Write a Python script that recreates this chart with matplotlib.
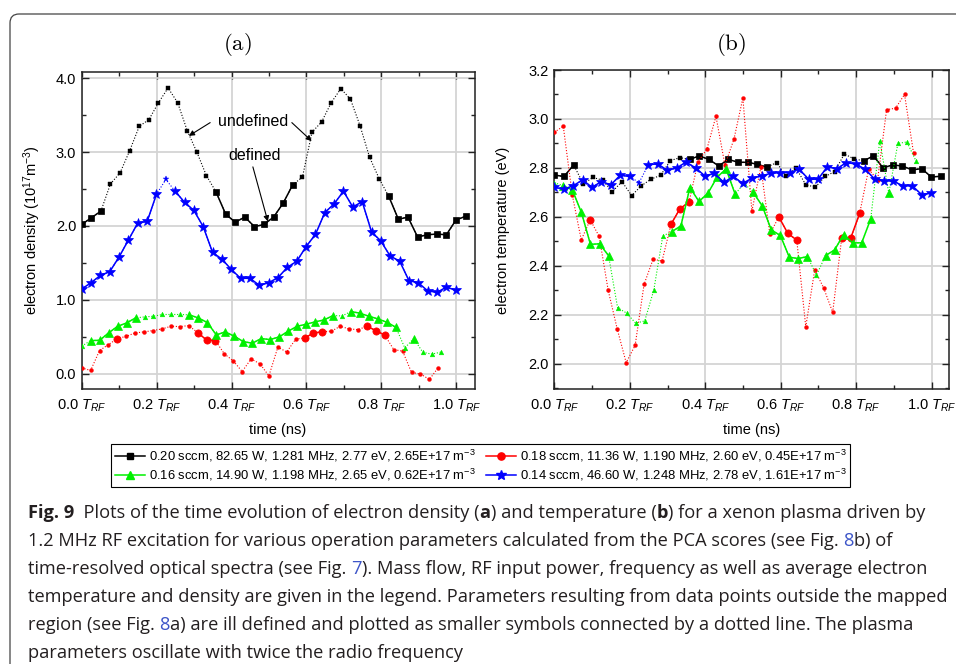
import matplotlib
matplotlib.use('Agg')
import matplotlib.pyplot as plt
import numpy as np
from matplotlib.lines import Line2D
from matplotlib.patches import FancyBboxPatch
from matplotlib.transforms import IdentityTransform
from matplotlib import font_manager as fm
from matplotlib.ticker import MultipleLocator

# ---------------- data ----------------
t_ns = np.arange(0, 820, 20)          # sampling times (ns), 41 samples
freq_black, freq_red, freq_green, freq_blue = 1.281, 1.190, 1.198, 1.248   # MHz

# electron density (1e17 m^-3), panel (a)
ne_black = [2.02, 2.11, 2.20, 2.57, 2.72, 3.02, 3.35, 3.44, 3.67, 3.87, 3.67, 3.29, 3.00, 2.68,
            2.46, 2.16, 2.05, 2.12, 1.99, 2.02, 2.12, 2.31, 2.56, 2.66, 3.27, 3.41, 3.67, 3.86,
            3.72, 3.36, 2.93, 2.64, 2.40, 2.09, 2.12, 1.85, 1.88, 1.89, 1.88, 2.08, 2.13]
ne_red = [0.077, 0.041, 0.311, 0.392, 0.473, 0.505, 0.55, 0.564, 0.582, 0.604, 0.64, 0.636, 0.649,
          0.555, 0.455, 0.446, 0.266, 0.171, 0.027, 0.198, 0.131, -0.032, 0.356, 0.293, 0.465,
          0.483, 0.546, 0.568, 0.573, 0.64, 0.604, 0.595, 0.64, 0.582, 0.519, 0.325, 0.302,
          0.014, -0.005, -0.081, 0.081]
ne_green = [0.37, 0.446, 0.45, 0.55, 0.64, 0.685, 0.753, 0.767, 0.776, 0.80, 0.80, 0.80, 0.794,
            0.753, 0.69, 0.523, 0.564, 0.505, 0.433, 0.41, 0.473, 0.46, 0.496, 0.573, 0.64,
            0.667, 0.70, 0.726, 0.785, 0.78, 0.84, 0.817, 0.776, 0.74, 0.695, 0.627, 0.347,
            0.474, 0.289, 0.262, 0.289]
ne_blue = [1.145, 1.23, 1.33, 1.38, 1.58, 1.81, 2.04, 2.06, 2.43, 2.63, 2.47, 2.32, 2.21, 1.99,
           1.64, 1.55, 1.41, 1.29, 1.29, 1.195, 1.23, 1.30, 1.44, 1.52, 1.72, 1.885, 2.18, 2.30,
           2.47, 2.255, 2.33, 1.92, 1.795, 1.59, 1.525, 1.26, 1.23, 1.12, 1.10, 1.17, 1.13]

# electron temperature (eV), panel (b)
te_black = [2.771, 2.765, 2.812, 2.735, 2.761, 2.75, 2.703, 2.744, 2.687, 2.727, 2.754, 2.770,
            2.830, 2.842, 2.835, 2.849, 2.835, 2.808, 2.835, 2.823, 2.823, 2.815, 2.803, 2.822,
            2.765, 2.80, 2.732, 2.721, 2.765, 2.785, 2.857, 2.837, 2.829, 2.849, 2.801, 2.812,
            2.808, 2.792, 2.797, 2.763, 2.766]
te_red = [2.946, 2.970, 2.69, 2.506, 2.588, 2.52, 2.30, 2.143, 2.005, 2.075, 2.325, 2.427, 2.42,
          2.57, 2.634, 2.66, 2.824, 2.878, 3.011, 2.812, 2.917, 3.086, 2.624, 2.803, 2.53, 2.60,
          2.533, 2.505, 2.151, 2.384, 2.309, 2.21, 2.513, 2.513, 2.614, 2.795, 2.751, 3.038,
          3.044, 3.10, 2.861]
te_green = [2.74, 2.727, 2.71, 2.618, 2.488, 2.49, 2.442, 2.229, 2.207, 2.166, 2.175, 2.30, 2.522,
            2.54, 2.563, 2.72, 2.663, 2.697, 2.762, 2.796, 2.693, 2.737, 2.70, 2.645, 2.547,
            2.524, 2.435, 2.43, 2.438, 2.362, 2.442, 2.465, 2.528, 2.494, 2.494, 2.592, 2.912,
            2.697, 2.90, 2.906, 2.829]
te_blue = [2.721, 2.713, 2.727, 2.751, 2.721, 2.744, 2.731, 2.770, 2.765, 2.74, 2.814, 2.816,
           2.79, 2.80, 2.824, 2.80, 2.767, 2.778, 2.741, 2.765, 2.737, 2.758, 2.767, 2.778, 2.781,
           2.781, 2.795, 2.754, 2.754, 2.805, 2.796, 2.822, 2.816, 2.795, 2.755, 2.748, 2.746,
           2.727, 2.727, 2.691, 2.697]

# L = well defined point (large symbol, solid line), s = ill defined (small symbol, dotted)
flags_black = "LLL" + "s" * 11 + "L" * 9 + "s" * 9 + "L" * 9
flags_red = "ssss" + "L" + "s" * 8 + "LLL" + "s" * 9 + "LLL" + "ssss" + "LLL" + "s" * 6
flags_green_a = "s" + "L" * 6 + "s" * 5 + "L" * 17 + "s" + "L" * 6 + "s" + "L" + "sss"
flags_green_b = "s" + "L" * 6 + "s" * 6 + "L" * 8 + "s" + "L" * 7 + "s" + "L" * 6 + "s" + "L" + "sss"
flags_blue = "L" * 9 + "s" + "L" * 31

legend_labels = [
    "0.20 sccm, 82.65 W, 1.281 MHz, 2.77 eV, 2.65E+17 m$^{-3}$",
    "0.16 sccm, 14.90 W, 1.198 MHz, 2.65 eV, 0.62E+17 m$^{-3}$",
    "0.18 sccm, 11.36 W, 1.190 MHz, 2.60 eV, 0.45E+17 m$^{-3}$",
    "0.14 sccm, 46.60 W, 1.248 MHz, 2.78 eV, 1.61E+17 m$^{-3}$",
]
xtick_vals = [0.0, 0.2, 0.4, 0.6, 0.8, 1.0]

caption_lines = [
    [("Fig. 9", "bold", None), ("  Plots of the time evolution of electron density (", "normal", None),
     ("a", "bold", None), (") and temperature (", "normal", None), ("b", "bold", None),
     (") for a xenon plasma driven by", "normal", None)],
    [("1.2 MHz RF excitation for various operation parameters calculated from the PCA scores (see Fig. ", "normal", None),
     ("8", "normal", "link"), ("b) of", "normal", None)],
    [("time-resolved optical spectra (see Fig. ", "normal", None), ("7", "normal", "link"),
     ("). Mass flow, RF input power, frequency as well as average electron", "normal", None)],
    [("temperature and density are given in the legend. Parameters resulting from data points outside the mapped", "normal", None)],
    [("region (see Fig. ", "normal", None), ("8", "normal", "link"),
     ("a) are ill defined and plotted as smaller symbols connected by a dotted line. The plasma", "normal", None)],
    [("parameters oscillate with twice the radio frequency", "normal", None)],
]

# ---------------- style ----------------
plt.rcParams['font.family'] = ['Liberation Sans', 'DejaVu Sans']
plt.rcParams['mathtext.fontset'] = 'custom'
plt.rcParams['mathtext.rm'] = 'Liberation Sans'
plt.rcParams['mathtext.it'] = 'Liberation Sans:italic'
plt.rcParams['mathtext.bf'] = 'Liberation Sans:bold'

W, H = 956, 664
fig = plt.figure(figsize=(W / 100, H / 100), dpi=100)
fig.patch.set_facecolor('white')


def fx(px):
    return px / W


def fy(py):
    return 1 - py / H


axA = fig.add_axes([fx(81.7), fy(389), fx(475) - fx(81.7), fy(71.7) - fy(389)])
axB = fig.add_axes([fx(554.3), fy(389), fx(949) - fx(554.3), fy(70) - fy(389)])

C_BLACK, C_RED, C_GREEN, C_BLUE = '#000000', '#ff0000', '#00f000', '#0000ff'
series_style = {
    'black': (C_BLACK, 's', 5.0, 2.4),
    'red': (C_RED, 'o', 5.2, 2.8),
    'green': (C_GREEN, '^', 6.0, 3.4),
    'blue': (C_BLUE, '*', 7.8, 5.0),
}


def draw(ax, f_mhz, y, flags, key, z):
    color, marker, ms_big, ms_small = series_style[key]
    x = t_ns * f_mhz / 1000.0
    y = np.asarray(y, float)
    good = np.array([c == 'L' for c in flags])
    ax.plot(x, y, ls=(0, (1, 1.6)), lw=0.8, color=color, zorder=z)
    ax.plot(x, np.where(good, y, np.nan), ls='-', lw=1.1, color=color, zorder=z + 0.1)
    ax.plot(x[good], y[good], ls='none', marker=marker, ms=ms_big, color=color,
            mec=color, mew=0.5, zorder=z + 0.2)
    ax.plot(x[~good], y[~good], ls='none', marker=marker, ms=ms_small, color=color,
            mec=color, mew=0.3, zorder=z + 0.2)


draw(axA, freq_black, ne_black, flags_black, 'black', 3)
draw(axA, freq_red, ne_red, flags_red, 'red', 4)
draw(axA, freq_green, ne_green, flags_green_a, 'green', 5)
draw(axA, freq_blue, ne_blue, flags_blue, 'blue', 6)

draw(axB, freq_black, te_black, flags_black, 'black', 3)
draw(axB, freq_red, te_red, flags_red, 'red', 4)
draw(axB, freq_green, te_green, flags_green_b, 'green', 5)
draw(axB, freq_blue, te_blue, flags_blue, 'blue', 6)

for ax in (axA, axB):
    ax.set_xlim(0, 1.05)
    ax.set_xticks(xtick_vals)
    ax.set_xticklabels(["%.1f $T_{RF}$" % v for v in xtick_vals])
    ax.xaxis.set_minor_locator(MultipleLocator(0.1))
    ax.tick_params(which='both', direction='in', top=True, right=True, width=1.0,
                   color='#222222', labelsize=10.5)
    ax.tick_params(which='major', length=5)
    ax.tick_params(which='minor', length=3)
    ax.tick_params(axis='x', pad=6)
    ax.tick_params(axis='y', pad=4)
    ax.grid(True, which='major', color='#d4d4d4', lw=1.3)
    ax.set_axisbelow(True)
    for sp in ax.spines.values():
        sp.set_linewidth(1.1)
        sp.set_color('#222222')

axA.set_ylim(-0.21, 4.09)
axA.set_yticks([0, 1, 2, 3, 4])
axA.set_yticklabels(['0.0', '1.0', '2.0', '3.0', '4.0'])
axA.yaxis.set_minor_locator(MultipleLocator(0.5))

axB.set_xlim(0, 1.046)
axB.set_ylim(1.897, 3.2)
axB.set_yticks([2.0, 2.2, 2.4, 2.6, 2.8, 3.0, 3.2])
axB.set_yticklabels(['2.0', '2.2', '2.4', '2.6', '2.8', '3.0', '3.2'])
axB.yaxis.set_minor_locator(MultipleLocator(0.1))

# axis labels and panel titles
fig.text(fx(32), fy(230), 'electron density (10$^{17}$m$^{-3}$)', rotation=90,
         ha='center', va='center', fontsize=10.5)
fig.text(fx(503), fy(230), 'electron temperature (eV)', rotation=90,
         ha='center', va='center', fontsize=10.5)
fig.text(fx(278), fy(430), 'time (ns)', ha='center', va='center', fontsize=10.5)
fig.text(fx(752), fy(430), 'time (ns)', ha='center', va='center', fontsize=10.5)
fig.text(fx(237), fy(44), r'$\mathrm{(a)}$', ha='center', va='center', fontsize=16.5,
         math_fontfamily='cm')
fig.text(fx(731), fy(44), r'$\mathrm{(b)}$', ha='center', va='center', fontsize=16.5,
         math_fontfamily='cm')

# annotations in panel (a)
arrow_kw = dict(arrowstyle='-|>', color='black', lw=0.8, mutation_scale=8, shrinkA=0, shrinkB=0)
axA.text(0.457, 3.41, 'undefined', ha='center', va='center', fontsize=11.5, zorder=10)
axA.annotate('', xy=(0.286, 3.22), xytext=(0.343, 3.40), arrowprops=arrow_kw, zorder=10)
axA.annotate('', xy=(0.614, 3.15), xytext=(0.561, 3.40), arrowprops=arrow_kw, zorder=10)
axA.text(0.462, 2.95, 'defined', ha='center', va='center', fontsize=11.5, zorder=10)
axA.annotate('', xy=(0.497, 2.06), xytext=(0.457, 2.80), arrowprops=arrow_kw, zorder=10)

# legend (column-wise order: black, green | red, blue)
handles = []
for key in ('black', 'green', 'red', 'blue'):
    color, marker, ms_big, _ = series_style[key]
    handles.append(Line2D([], [], color=color, marker=marker, ms=ms_big, lw=1.1, mec=color))
leg = fig.legend(handles, legend_labels, ncol=2, loc='center',
                 bbox_to_anchor=(fx(480.5), fy(465.5)), frameon=True, fancybox=False,
                 edgecolor='black', framealpha=1, fontsize=9.4, handlelength=2.3,
                 columnspacing=0.8, handletextpad=0.3, labelspacing=0.2, borderpad=0.3,
                 borderaxespad=0)
leg.get_frame().set_linewidth(0.8)

# outer rounded frame
frame = FancyBboxPatch((10, -60), 1100, (H - 14) + 60, boxstyle='round,pad=0,rounding_size=9',
                       transform=IdentityTransform(), facecolor='none', edgecolor='#444444',
                       lw=0.9)
fig.add_artist(frame)

# caption
try:
    fm.findfont(fm.FontProperties(family='Liberation Sans Narrow'), fallback_to_default=False)
    cap_family = 'Liberation Sans Narrow'
except Exception:
    cap_family = 'Open Sans'

renderer = fig.canvas.get_renderer()


def text_w(s, weight, size):
    fp = fm.FontProperties(family=cap_family, weight=weight, size=size)
    w1 = renderer.get_text_width_height_descent('|' + s + '|', fp, ismath=False)[0]
    w0 = renderer.get_text_width_height_descent('||', fp, ismath=False)[0]
    return w1 - w0


base = 14.0
w_line1 = sum(text_w(s, wt, base) for s, wt, _ in caption_lines[0])
cap_size = base * 902.0 / w_line1
cap_size = min(cap_size, 15.0)

cap_color = '#231f20'
link_color = '#3d55c8'
x0 = 28.0
y_base = 517.5
pitch = 28.2
for i, line in enumerate(caption_lines):
    x = x0
    yb = y_base + i * pitch
    for s, wt, col in line:
        c = link_color if col == 'link' else cap_color
        fig.text(fx(x), fy(yb), s, ha='left', va='baseline', fontsize=cap_size,
                 fontweight=wt, family=cap_family, color=c)
        x += text_w(s, wt, cap_size)

fig.savefig('out.png', dpi=100)
